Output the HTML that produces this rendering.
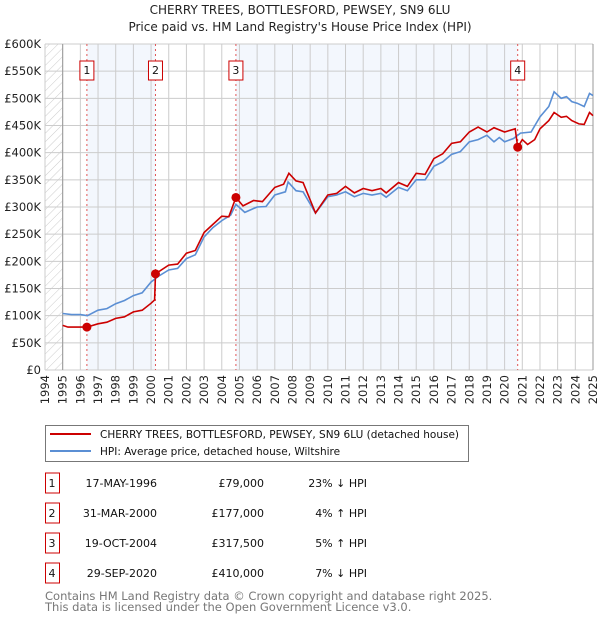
<!DOCTYPE html>
<html><head><meta charset="utf-8"><style>
body{margin:0;background:#fff;font-family:"DejaVu Sans","Liberation Sans",sans-serif;}
svg{display:block}
</style></head><body>
<svg width="600" height="620" viewBox="0 0 600 620" font-family="DejaVu Sans, Liberation Sans, sans-serif">
<defs><pattern id="hatch" width="6" height="6" patternUnits="userSpaceOnUse" patternTransform="rotate(45)"><line x1="0" y1="0" x2="0" y2="6" stroke="#ccc" stroke-width="1"/></pattern></defs>
<text x="300" y="14" text-anchor="middle" font-size="12" fill="#222">CHERRY TREES, BOTTLESFORD, PEWSEY, SN9 6LU</text>
<text x="300" y="31" text-anchor="middle" font-size="12" fill="#222">Price paid vs. HM Land Registry's House Price Index (HPI)</text>
<g id="plot"></g>
<g>
<rect x="45.5" y="425.5" width="423" height="36" fill="#fff" stroke="#777"/>
<line x1="50" y1="434" x2="91" y2="434" stroke="#cc0000" stroke-width="2"/>
<text x="100" y="438" font-size="10.5" fill="#111">CHERRY TREES, BOTTLESFORD, PEWSEY, SN9 6LU (detached house)</text>
<line x1="50" y1="451" x2="91" y2="451" stroke="#5b8fd4" stroke-width="2"/>
<text x="100" y="455" font-size="10.5" fill="#111">HPI: Average price, detached house, Wiltshire</text>
</g>
<g id="table" font-size="11" fill="#111"></g>
<text x="45" y="600" font-size="11.5" fill="#777">Contains HM Land Registry data © Crown copyright and database right 2025.</text>
<text x="45" y="611" font-size="11.5" fill="#777">This data is licensed under the Open Government Licence v3.0.</text>
</svg>
<script>
const hpiYears=[1995,1995.5,1996,1996.4,1997,1997.5,1998,1998.5,1999,1999.5,2000,2000.4,2001,2001.5,2002,2002.5,2003,2003.5,2004,2004.5,2004.8,2005.3,2006,2006.5,2007,2007.6,2007.75,2008.2,2008.6,2009.3,2010,2010.5,2011,2011.5,2012,2012.5,2013,2013.3,2014,2014.5,2015,2015.5,2016,2016.5,2017,2017.5,2018,2018.5,2019,2019.4,2019.7,2020,2020.5,2020.9,2021.5,2022,2022.5,2022.8,2023.2,2023.5,2023.8,2024.1,2024.5,2024.8,2025];
const hpiValues=[104,102,102,100,110,113,122,128,137,142,162,172,184,187,205,212,245,262,275,285,305,290,300,301,322,328,346,330,328,289,319,322,328,319,325,322,325,318,336,330,350,350,375,383,397,402,420,424,432,420,428,420,426,436,438,466,485,512,500,503,494,491,485,509,505];
const propYears=[1995,1995.3,1996.37,1997,1997.5,1998,1998.5,1999,1999.5,2000,2000.2,2000.25,2001,2001.5,2002,2002.5,2003,2003.5,2004,2004.4,2004.8,2005.2,2005.8,2006.3,2007,2007.5,2007.8,2008.2,2008.6,2009.3,2010,2010.5,2011,2011.5,2012,2012.5,2013,2013.3,2014,2014.5,2015,2015.5,2016,2016.5,2017,2017.5,2018,2018.5,2019,2019.4,2020,2020.6,2020.74,2021,2021.3,2021.7,2022,2022.5,2022.8,2023.2,2023.5,2023.8,2024.2,2024.5,2024.8,2025];
const propValues=[82,79,79,85,88,95,98,107,110,123,129,177,193,195,215,220,253,268,283,282,317.5,302,312,310,336,342,362,348,345,289,322,325,338,326,334,330,334,326,345,338,362,360,389,398,417,420,438,447,438,446,438,444,410,424,415,424,444,459,474,465,467,459,453,452,474,468];
const saleLabels=["1","2","3","4"];
const saleYears=[1996.37,2000.25,2004.8,2020.74];
const salePrices=[79000,177000,317500,410000];
const saleDates=["17-MAY-1996","31-MAR-2000","19-OCT-2004","29-SEP-2020"];
const salePriceText=["£79,000","£177,000","£317,500","£410,000"];
const saleDiffs=["23% ↓ HPI","4% ↑ HPI","5% ↑ HPI","7% ↓ HPI"];
const yTicks=[0,50,100,150,200,250,300,350,400,450,500,550,600];
const yTickLabels=["£0","£50K","£100K","£150K","£200K","£250K","£300K","£350K","£400K","£450K","£500K","£550K","£600K"];
const xTicks=[];for(let y=1994;y<=2025;y++)xTicks.push(y);

const L=45,R=593,T=44,B=370;
const xs=y=>L+(y-1994)*(R-L)/31;
const ys=v=>B-v*(B-T)/600;
const NS="http://www.w3.org/2000/svg";
const plot=document.getElementById('plot');
function mk(tag,attrs,parent){const e=document.createElementNS(NS,tag);for(const k in attrs)e.setAttribute(k,attrs[k]);(parent||plot).appendChild(e);return e;}

let b=mk('rect',{x:xs(saleYears[0]),y:T,width:xs(saleYears[1])-xs(saleYears[0]),height:B-T,fill:'#eef3fc',opacity:0.7});


b=mk('rect',{x:xs(saleYears[2]),y:T,width:xs(saleYears[3])-xs(saleYears[2]),height:B-T,fill:'#eef3fc',opacity:0.7});


let h=mk('rect',{x:L,y:T,width:xs(1995)-L,height:B-T,fill:'url(#hatch)'});



xTicks.forEach(y=>{
  const g=mk('line',{x1:xs(y),x2:xs(y),y1:T,y2:B,stroke:'#ccc','stroke-width':1});
  
  
  const t=mk('text',{x:0,y:0,transform:`translate(${xs(y)+4},${B+5}) rotate(-90)`,'text-anchor':'end','font-size':11.5,fill:'#222'});
  t.textContent=y;
  
  
});
yTicks.forEach((v,i)=>{
  const g=mk('line',{x1:L,x2:R,y1:ys(v),y2:ys(v),stroke:'#ccc','stroke-width':1});
  
  
  const t=mk('text',{x:L-4,y:ys(v)+4,'text-anchor':'end','font-size':11.5,fill:'#222'});
  t.textContent=yTickLabels[i];
  
  
});
let ax=mk('line',{x1:xs(1995),x2:xs(1995),y1:T,y2:B,stroke:'#999'});


ax=mk('line',{x1:R,x2:R,y1:T,y2:B,stroke:'#999'});



saleYears.forEach((y,i)=>{
  const l=mk('line',{x1:xs(y),x2:xs(y),y1:T,y2:B,stroke:'#e05555','stroke-width':1,'stroke-dasharray':'2,3'});
  
  
  const bx=mk('rect',{x:xs(y)-7,y:61,width:14,height:19,fill:'#fff',stroke:'#cc0000'});
  
  
  const t=mk('text',{x:xs(y),y:74,'text-anchor':'middle','font-size':11,fill:'#111'});
  t.textContent=saleLabels[i];
  
  
});

const path=(xsA,vs)=>xsA.map((y,i)=>(i?'L':'M')+xs(y).toFixed(1)+','+ys(vs[i]).toFixed(1)).join('');
let p=mk('path',{d:path(hpiYears,hpiValues),fill:'none',stroke:'#5b8fd4','stroke-width':1.6});


p=mk('path',{d:path(propYears,propValues),fill:'none',stroke:'#cc0000','stroke-width':1.6});


saleYears.forEach((y,i)=>{
  const c=mk('circle',{cx:xs(y),cy:ys(salePrices[i]/1000),r:4.5,fill:'#cc0000'});
  
  
});

const tb=document.getElementById('table');
saleLabels.forEach((s,i)=>{
  const cy=483+i*30;
  const r=mk('rect',{x:45.5,y:cy-10,width:14,height:20,fill:'#fff',stroke:'#cc0000'},tb);
  
  
  const cells=[[52,s,'middle','table-row-number'],[157,saleDates[i],'end','table-date'],[264,salePriceText[i],'end','table-price'],[367,saleDiffs[i],'end','table-hpi-diff']];
  cells.forEach(c=>{
    const t=mk('text',{x:c[0],y:cy+4,'text-anchor':c[2]},tb);
    t.textContent=c[1];
    
    
  });
});
</script>
</body></html>
